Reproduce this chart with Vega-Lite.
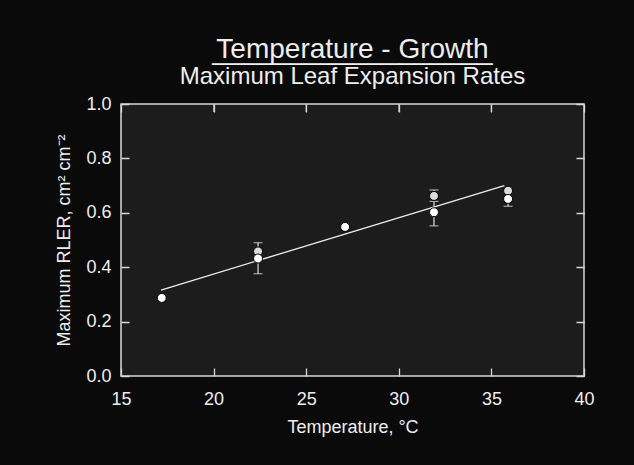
{
  "$schema": "https://vega.github.io/schema/vega-lite/v6.json",
  "width": 463,
  "height": 272,
  "autosize": {"type": "none"},
  "padding": {"left": 121, "top": 104, "right": 50, "bottom": 89},
  "background": "#0a0a0a",
  "title": {
    "text": ["Temperature - Growth", "__________________"],
    "lineHeight": 1,
    "subtitle": "Maximum Leaf Expansion Rates",
    "anchor": "middle",
    "font": "Liberation Sans",
    "fontSize": 28,
    "fontWeight": "normal",
    "color": "#eeeeee",
    "subtitleFont": "Liberation Sans",
    "subtitleFontSize": 24,
    "subtitleColor": "#eeeeee",
    "subtitlePadding": 0,
    "offset": 6
  },
  "datasets": {
    "pts": [
      {"t": 22.4, "v": 0.458, "g": "a", "lo": null, "hi": null},
      {"t": 31.9, "v": 0.662, "g": "a", "lo": 0.662, "hi": 0.684},
      {"t": 35.9, "v": 0.681, "g": "a", "lo": null, "hi": null},
      {"t": 17.2, "v": 0.287, "g": "b", "lo": null, "hi": null},
      {"t": 22.4, "v": 0.432, "g": "b", "lo": 0.376, "hi": 0.49},
      {"t": 27.1, "v": 0.548, "g": "b", "lo": null, "hi": null},
      {"t": 31.9, "v": 0.602, "g": "b", "lo": 0.552, "hi": 0.642},
      {"t": 35.9, "v": 0.651, "g": "b", "lo": 0.624, "hi": 0.678}
    ],
    "fit": [
      {"t": 17.16, "v": 0.316},
      {"t": 35.7, "v": 0.7}
    ],
    "xticks": [{"t": 20}, {"t": 25}, {"t": 30}, {"t": 35}]
  },
  "layer": [
    {
      "data": {"name": "fit"},
      "mark": {"type": "line", "color": "#eeeeee", "strokeWidth": 1.3},
      "encoding": {
        "x": {
          "field": "t", "type": "quantitative",
          "scale": {"domain": [15, 40], "nice": false, "zero": false},
          "axis": {"orient": "bottom", "title": "Temperature, °C", "values": [15, 20, 25, 30, 35, 40], "ticks": false, "grid": true, "gridDash": [8, 256, 8, 1000], "labelFlush": false, "labelPadding": 14, "titlePadding": 10}
        },
        "y": {
          "field": "v", "type": "quantitative",
          "scale": {"domain": [0, 1], "nice": false},
          "axis": {"orient": "left", "title": "Maximum RLER, cm² cm⁻²", "values": [0, 0.2, 0.4, 0.6, 0.8, 1.0], "format": ".1f", "ticks": false, "grid": true, "gridDash": [8, 447, 8, 1000], "labelPadding": 10, "titlePadding": 12}
        }
      }
    },
    {
      "data": {"name": "xticks"},
      "mark": {"type": "tick", "orient": "vertical", "size": 16, "thickness": 1.3, "color": "#d8d8d8", "clip": true},
      "encoding": {
        "x": {"field": "t", "type": "quantitative"},
        "y": {"datum": 1, "type": "quantitative"}
      }
    },
    {
      "data": {"name": "pts"},
      "transform": [{"filter": "datum.lo != null"}],
      "mark": {"type": "rule", "color": "#dddddd", "strokeWidth": 1.2},
      "encoding": {
        "x": {"field": "t", "type": "quantitative"},
        "y": {"field": "lo", "type": "quantitative"},
        "y2": {"field": "hi"}
      }
    },
    {
      "data": {"name": "pts"},
      "transform": [{"filter": "datum.lo != null"}],
      "mark": {"type": "tick", "orient": "horizontal", "size": 9, "thickness": 1.2, "color": "#dddddd"},
      "encoding": {
        "x": {"field": "t", "type": "quantitative"},
        "y": {"field": "lo", "type": "quantitative"}
      }
    },
    {
      "data": {"name": "pts"},
      "transform": [{"filter": "datum.hi != null"}],
      "mark": {"type": "tick", "orient": "horizontal", "size": 9, "thickness": 1.2, "color": "#dddddd"},
      "encoding": {
        "x": {"field": "t", "type": "quantitative"},
        "y": {"field": "hi", "type": "quantitative"}
      }
    },
    {
      "data": {"name": "pts"},
      "mark": {"type": "point", "filled": true, "size": 80, "stroke": "#000000", "strokeWidth": 1, "opacity": 1},
      "encoding": {
        "x": {"field": "t", "type": "quantitative"},
        "y": {"field": "v", "type": "quantitative"},
        "fill": {"field": "g", "type": "nominal", "scale": {"domain": ["a", "b"], "range": ["#dcdcdc", "#ffffff"]}, "legend": null}
      }
    }
  ],
  "config": {
    "view": {"stroke": "#d8d8d8", "strokeWidth": 1.5, "fill": "#1c1c1c"},
    "axis": {
      "domain": false,
      "gridColor": "#d8d8d8",
      "gridWidth": 1.3,
      "gridOpacity": 1,
      "labelColor": "#eeeeee",
      "labelFont": "Liberation Sans",
      "labelFontSize": 18,
      "titleColor": "#eeeeee",
      "titleFont": "Liberation Sans",
      "titleFontSize": 18,
      "titleFontWeight": "normal"
    }
  }
}
